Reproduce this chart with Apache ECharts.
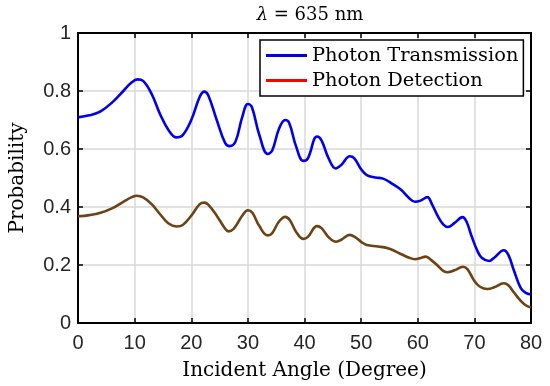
<!DOCTYPE html>
<html>
<head>
<meta charset="utf-8">
<script src="https://cdn.jsdelivr.net/npm/echarts@6/dist/echarts.min.js"></script>
<style>
html,body{margin:0;padding:0;background:#fff;}
#chart{width:550px;height:386px;}
</style>
</head>
<body>
<div id="chart"></div>
<script>
// ---- data ----
const titleText = '635 nm';
const xTicks = [0, 10, 20, 30, 40, 50, 60, 70, 80];
const yTicks = [0, 0.2, 0.4, 0.6, 0.8, 1];
const seriesNames = ['Photon Transmission', 'Photon Detection'];

const transAngle = [0,2,4,6,8,9.5,10.5,11.5,13,14.5,16,17.4,18.5,20,21.5,22.3,23,24.5,26,26.8,27.8,29,30,30.7,32,33.5,34.3,35.5,36.6,37.3,38.5,39.8,40.6,42.2,43,44.2,45.5,46.5,48,48.8,50,51,52.5,54,55.5,57,58.5,59.5,60.5,61.7,62.5,63.5,64.5,65.3,66.5,67.9,68.6,69.5,70.5,71.3,72.6,73.5,75.2,76,77,78.2,79,80];
const transProb  = [0.709,0.716,0.73,0.76,0.80,0.830,0.840,0.835,0.79,0.72,0.665,0.640,0.648,0.70,0.78,0.798,0.785,0.70,0.62,0.610,0.625,0.71,0.755,0.745,0.65,0.583,0.595,0.67,0.700,0.69,0.61,0.559,0.568,0.643,0.63,0.57,0.533,0.545,0.575,0.568,0.53,0.510,0.502,0.497,0.48,0.46,0.43,0.418,0.422,0.434,0.41,0.37,0.34,0.331,0.345,0.365,0.35,0.30,0.25,0.225,0.214,0.225,0.251,0.235,0.18,0.12,0.105,0.098];

const detAngle = [0,2,4,6,8,9.5,10.4,11.5,13,14.5,16,17.4,18.5,20,21.5,22.3,23,24.5,26,26.6,27.5,29,30,30.8,32,33.5,34.3,35.5,36.6,37.4,38.5,39.8,40.6,42.2,43,44.3,45.6,46.5,48,48.8,50,51,53,55,57,58.5,59.5,60.5,61.4,62.5,63.5,64.5,65.3,66.5,68,68.8,70,71,72.3,73.5,75.2,76,77,78.2,79,80];
const detProb  = [0.368,0.372,0.38,0.395,0.418,0.434,0.439,0.433,0.41,0.375,0.343,0.333,0.338,0.37,0.41,0.415,0.408,0.37,0.325,0.316,0.325,0.37,0.389,0.38,0.335,0.302,0.31,0.35,0.366,0.355,0.315,0.29,0.297,0.334,0.327,0.295,0.28,0.287,0.304,0.298,0.28,0.269,0.264,0.256,0.238,0.225,0.220,0.224,0.229,0.215,0.198,0.18,0.175,0.182,0.194,0.185,0.145,0.125,0.117,0.123,0.137,0.13,0.105,0.076,0.062,0.053];

const zip = (a, b) => a.map((v, i) => [v, b[i]]);

const chart = echarts.init(document.getElementById('chart'), null, {renderer: 'canvas'});

const tickFont = {fontFamily: 'Liberation Sans', fontSize: 20, color: '#262626'};
const serif = 'DejaVu Serif';
const gridColor = '#d8d8d8';

const baseX = {
  type: 'value', min: xTicks[0], max: xTicks[xTicks.length - 1], interval: 10,
  axisLine: {show: true, onZero: false, lineStyle: {color: '#000', width: 2}},
  axisTick: {show: true, inside: true, length: 5, lineStyle: {color: '#000', width: 1.5}},
};
const baseY = {
  type: 'value', min: yTicks[0], max: yTicks[yTicks.length - 1], interval: 0.2,
  axisLine: {show: true, onZero: false, lineStyle: {color: '#000', width: 2}},
  axisTick: {show: true, inside: true, length: 5, lineStyle: {color: '#000', width: 1.5}},
};

chart.setOption({
  animation: false,
  backgroundColor: '#fff',
  grid: {left: 78, right: 19, top: 33, bottom: 63},
  graphic: [{
    type: 'text', x: 310, y: 15,
    style: {
      text: '{i|λ} = ' + titleText,
      rich: {i: {fontStyle: 'italic', fontFamily: serif, fontSize: 18, fill: '#000'}},
      fontFamily: serif, fontSize: 18, fill: '#000',
      textAlign: 'center', textVerticalAlign: 'middle'
    }
  }],
  legend: {
    orient: 'vertical', left: 260, top: 40,
    padding: [6, 5, 6, 6], itemGap: 6,
    backgroundColor: '#fff', borderColor: '#000', borderWidth: 1.5,
    icon: 'rect', itemWidth: 41, itemHeight: 3,
    textStyle: {fontFamily: serif, fontSize: 19.4, color: '#000', padding: [0, 0, 0, 0]},
    data: [
      {name: seriesNames[0], itemStyle: {color: '#0000ee'}},
      {name: seriesNames[1], itemStyle: {color: '#ff0000'}}
    ]
  },
  xAxis: [
    Object.assign({}, baseX, {
      position: 'bottom',
      axisLabel: Object.assign({margin: 10}, tickFont),
      splitLine: {show: true, lineStyle: {color: gridColor, width: 1.5}},
      name: 'Incident Angle (Degree)', nameLocation: 'middle', nameGap: 38,
      nameTextStyle: {fontFamily: serif, fontSize: 20, color: '#000'}
    }),
    Object.assign({}, baseX, {
      position: 'top', axisLabel: {show: false}, splitLine: {show: false}
    })
  ],
  yAxis: [
    Object.assign({}, baseY, {
      position: 'left',
      axisLabel: Object.assign({margin: 7}, tickFont),
      splitLine: {show: true, lineStyle: {color: gridColor, width: 1.5}},
      name: 'Probability', nameLocation: 'middle', nameGap: 50, nameRotate: 90,
      nameTextStyle: {fontFamily: serif, fontSize: 20, color: '#000'}
    }),
    Object.assign({}, baseY, {
      position: 'right', axisLabel: {show: false}, splitLine: {show: false}
    })
  ],
  series: [
    {
      name: seriesNames[0], type: 'line', xAxisIndex: 0, yAxisIndex: 0,
      data: zip(transAngle, transProb), smooth: 0.4, symbol: 'none',
      itemStyle: {color: '#0000ee'},
      lineStyle: {color: '#0000ee', width: 2.6}
    },
    {
      name: seriesNames[1], type: 'line', xAxisIndex: 0, yAxisIndex: 0,
      data: zip(detAngle, detProb), smooth: 0.4, symbol: 'none',
      itemStyle: {color: '#ff0000'},
      lineStyle: {color: '#6e4214', width: 2.6}
    }
  ]
});
</script>
</body>
</html>
